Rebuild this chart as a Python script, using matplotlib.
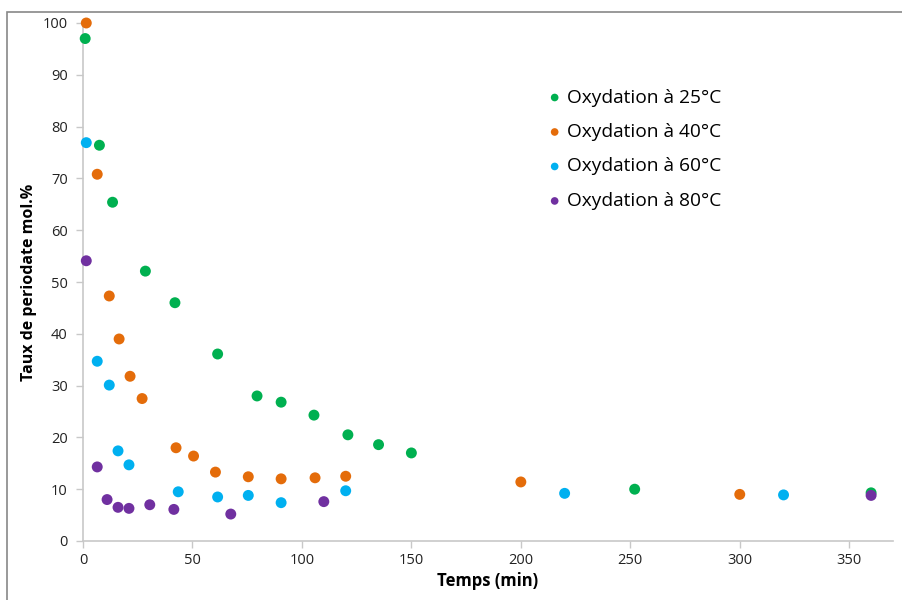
import matplotlib
matplotlib.use("Agg")
from matplotlib import pyplot as plt
from matplotlib.patches import Rectangle

# temps (min) et taux de periodate (mol.%)
t_25 = [1, 7.5, 13.5, 28.5, 42, 61.5, 79.5, 90.5, 105.5, 121, 135, 150, 252, 360]
y_25 = [97, 76.4, 65.4, 52.1, 46.0, 36.1, 28.0, 26.8, 24.3, 20.5, 18.6, 17.0, 10.0, 9.3]

t_40 = [1.5, 6.5, 12, 16.5, 21.5, 27, 42.5, 50.5, 60.5, 75.5, 90.5, 106, 120, 200, 300]
y_40 = [100, 70.8, 47.3, 39.0, 31.8, 27.5, 18.0, 16.4, 13.3, 12.4, 12.0, 12.2, 12.5, 11.4, 9.0]

t_60 = [1.5, 6.5, 12, 16, 21, 43.5, 61.5, 75.5, 90.5, 120, 220, 320]
y_60 = [76.9, 34.7, 30.1, 17.4, 14.7, 9.5, 8.5, 8.8, 7.4, 9.7, 9.2, 8.9]

t_80 = [1.5, 6.5, 11, 16, 21, 30.5, 41.5, 67.5, 110, 360]
y_80 = [54.1, 14.3, 8.0, 6.5, 6.3, 7.0, 6.1, 5.2, 7.6, 8.8]

series = [
    ("Oxydation à 25°C", t_25, y_25, "#00b050"),
    ("Oxydation à 40°C", t_40, y_40, "#e46c0a"),
    ("Oxydation à 60°C", t_60, y_60, "#00b0f0"),
    ("Oxydation à 80°C", t_80, y_80, "#7030a0"),
]

plt.rcParams['font.family'] = ['Open Sans', 'DejaVu Sans']

fig = plt.figure(figsize=(9.02, 6.0), dpi=100)
ax = fig.add_axes([83 / 902, 1 - 541 / 600, (893 - 83) / 902, (541 - 23) / 600])

for name, t, y, c in series:
    ax.scatter(t, y, s=62, color=c, edgecolors="none", label=name, clip_on=False, zorder=3)

ax.set_xlim(0, 370)
ax.set_ylim(0, 100)
ax.set_xticks(range(0, 351, 50))
ax.set_yticks(range(0, 101, 10))

for side in ["top", "right"]:
    ax.spines[side].set_visible(False)
for side in ["left", "bottom"]:
    ax.spines[side].set_color("#c8c8c8")
    ax.spines[side].set_linewidth(1.2)
ax.tick_params(axis="both", colors="#c8c8c8", length=5, width=1, labelsize=10.5, labelcolor="#222222")
ax.tick_params(axis="y", pad=6)

ax.set_xlabel("Temps (min)", fontsize=12, fontweight="bold", labelpad=3)
ax.set_ylabel("Taux de periodate mol.%", fontsize=11.5, fontweight="bold", labelpad=4)

ax.legend(loc="upper left", bbox_to_anchor=(0.561, 0.892), frameon=False, fontsize=13.8,
          handlelength=0.8, handletextpad=0.25, labelspacing=0.86, markerscale=0.7, borderpad=0)

# cadre gris autour du graphique
fig.patches.append(Rectangle((7 / 902, -0.2), 1.5, 1.2 - 12 / 600, transform=fig.transFigure,
                             fill=False, edgecolor="#888888", linewidth=1.2))

fig.savefig("out.png", dpi=100)
